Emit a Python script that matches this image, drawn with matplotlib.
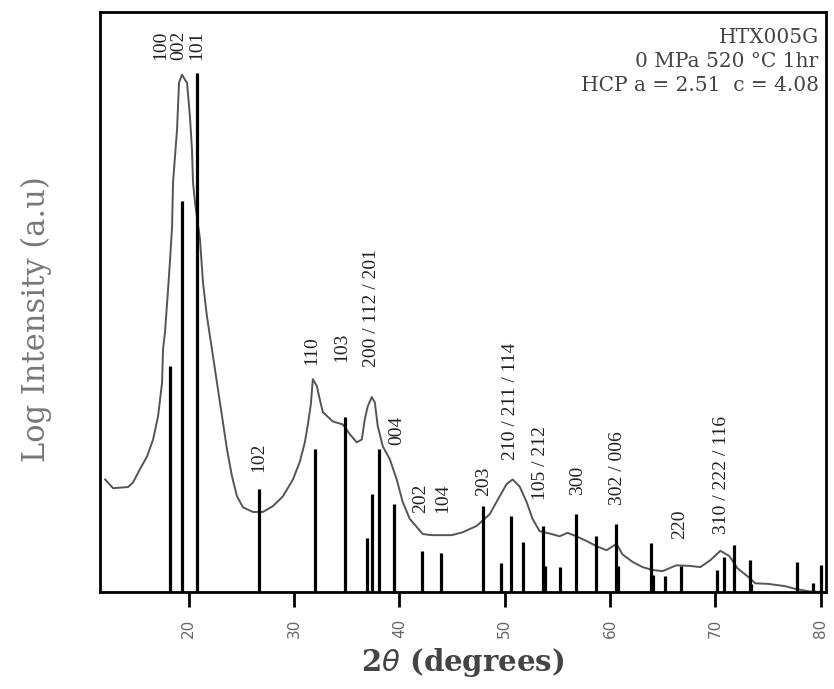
import numpy as np
import matplotlib.pyplot as plt

# measured XRD pattern (log intensity, arbitrary units)
two_theta = [12.09, 12.84, 14.27, 14.74, 15.40, 16.07, 16.64, 17.11, 17.30, 17.49,
             17.58, 17.77, 18.06, 18.25, 18.44, 18.53, 18.91, 19.10, 19.38, 19.67,
             19.86, 20.14, 20.33, 20.43, 20.62, 21.09, 21.37, 21.75, 22.23, 22.70,
             23.18, 23.65, 24.12, 24.60, 25.17, 26.11, 27.06, 28.01, 28.96, 29.91,
             30.57, 31.04, 31.33, 31.61, 31.80, 32.18, 32.46, 32.75, 33.70, 34.64,
             35.31, 35.97, 36.45, 36.73, 37.01, 37.39, 37.68, 37.96, 38.44, 39.10,
             39.76, 40.33, 41.00, 41.66, 42.23, 43.08, 44.98, 46.02, 47.35, 48.58,
             49.53, 50.19, 50.76, 51.42, 52.09, 52.65, 53.32, 54.45, 55.21, 55.97,
             56.82, 57.77, 58.72, 59.67, 60.62, 61.18, 62.13, 63.08, 64.03, 64.98,
             66.30, 67.54, 68.58, 69.53, 70.47, 71.33, 72.09, 73.13, 73.79, 75.02,
             76.64, 77.68, 78.91, 80.05]
intensity = [19.4, 17.9, 18.1, 18.9, 21.2, 23.4, 26.3, 30.3, 33.2, 36.1,
             41.8, 44.8, 52.2, 57.3, 63.0, 70.6, 79.7, 87.8, 89.2, 88.3,
             87.8, 81.9, 76.2, 70.6, 67.1, 60.8, 53.4, 47.5, 41.8, 36.1,
             30.3, 24.6, 20.0, 16.5, 14.6, 13.8, 13.8, 14.8, 16.5, 19.4,
             22.5, 25.8, 28.9, 32.4, 36.7, 35.5, 33.2, 31.0, 29.4, 28.9,
             27.2, 25.8, 26.3, 29.8, 32.0, 33.6, 32.7, 28.6, 25.1, 22.9,
             19.4, 15.5, 12.6, 11.2, 10.0, 9.8, 9.8, 10.3, 11.4, 13.4,
             16.5, 18.6, 19.4, 18.2, 15.5, 12.6, 10.5, 10.0, 9.6, 10.2,
             9.6, 8.8, 7.9, 7.2, 8.3, 6.5, 5.2, 4.3, 3.8, 3.6,
             4.6, 4.5, 4.3, 5.5, 7.1, 6.2, 4.1, 2.6, 1.5, 1.4,
             1.0, 0.5, 0.1, 0.0]

# reference HCP reflections
ref_pos = [18.25, 19.41, 20.81, 26.71, 31.99, 34.83, 36.95, 37.42, 38.09, 39.48,
           42.16, 44.00, 47.94, 49.62, 50.57, 51.74, 53.63, 53.79, 55.21, 56.80,
           58.69, 60.59, 60.75, 63.91, 64.05, 65.26, 66.73, 70.19, 70.84, 71.80,
           73.26, 73.40, 77.77, 79.25, 79.99]
ref_int = [38.9, 67.5, 89.5, 17.7, 24.6, 30.1, 9.3, 16.9, 24.6, 15.1,
           7.1, 6.7, 14.8, 5.0, 13.1, 8.7, 11.4, 4.5, 4.3, 13.4,
           9.7, 11.7, 4.5, 8.4, 2.9, 2.8, 4.5, 3.8, 6.0, 8.1,
           5.5, 1.4, 5.2, 1.6, 4.6]

# hkl labels
hkl_text = ["100", "002", "101", "102", "110", "103", "200 / 112 / 201", "004",
            "202", "104", "203", "210 / 211 / 114", "105 / 212", "300",
            "302 / 006", "220", "310 / 222 / 116"]
hkl_x = [17.39, 19.10, 20.81, 26.68, 31.71, 34.55, 37.39, 39.76,
         42.04, 44.12, 48.01, 50.57, 53.41, 56.92, 60.71, 66.59, 70.57]
hkl_y = [91.7, 91.7, 91.7, 20.7, 39.1, 39.7, 38.8, 25.3,
         13.6, 13.6, 16.6, 22.8, 15.9, 16.7, 15.0, 9.1, 10.0]

info_lines = ["HTX005G", "0 MPa 520 °C 1hr", "HCP a = 2.51  c = 4.08"]

fig = plt.figure(figsize=(8.34, 6.89), dpi=100)
ax = fig.add_axes([100 / 834, 97 / 689, 726 / 834, 580 / 689])

ax.plot(two_theta, intensity, color='#555555', lw=1.4)
ax.vlines(ref_pos, 0, ref_int, colors='black', lw=2.3)

for t, x, y in zip(hkl_text, hkl_x, hkl_y):
    ax.text(x, y, t, rotation=90, ha='center', va='bottom',
            fontsize=14, family='Liberation Serif', color='#222222')

for i, line in enumerate(info_lines):
    ax.text(0.99, 0.956 - i * 0.041, line, transform=ax.transAxes, ha='right', va='center',
            fontsize=14.5, family='DejaVu Serif', color='#444444')

ax.set_xlim(11.6, 80.5)
ax.set_ylim(0, 100)
ax.set_xticks(np.arange(20, 81, 10))
ax.set_yticks([])
ax.tick_params(axis='x', direction='out', length=11, width=2, pad=8,
               labelsize=11, labelrotation=90, labelcolor='#666666')
for s in ax.spines.values():
    s.set_linewidth(2)

ax.set_xlabel(r'2$\theta$ (degrees)', fontsize=21, family='DejaVu Serif',
              fontweight='bold', color='#444444', labelpad=6)
ax.set_ylabel('Log Intensity (a.u)', fontsize=22, family='DejaVu Serif',
              color='#777777')
ax.yaxis.set_label_coords(-0.066, 0.47)

fig.savefig('out.png', dpi=100)
